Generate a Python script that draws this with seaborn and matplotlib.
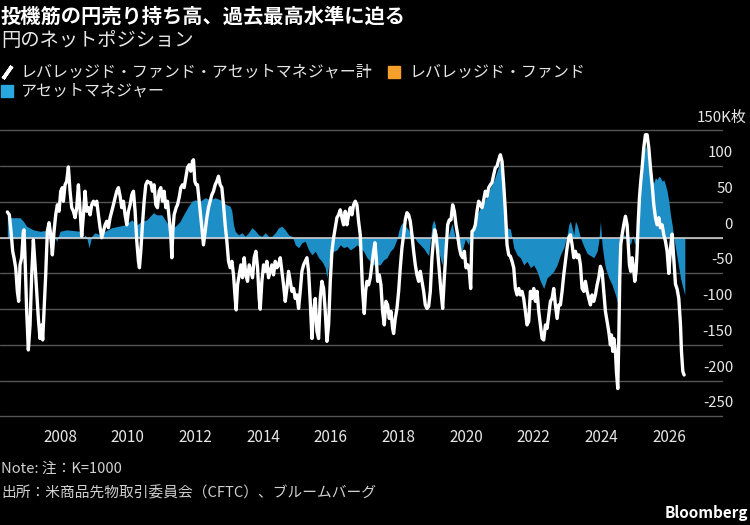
import numpy as np
import pandas as pd
import matplotlib
matplotlib.use("Agg")
import matplotlib.pyplot as plt
import seaborn as sns
from matplotlib import transforms
from matplotlib.lines import Line2D

# ---------------- data (thousand contracts, decimal years) ----------------
total_t = [2006.442, 2006.501, 2006.550, 2006.600, 2006.639, 2006.689, 2006.738, 2006.777, 2006.817, 2006.866,
           2006.915, 2006.935, 2006.965, 2007.014, 2007.063, 2007.113, 2007.162, 2007.211, 2007.261, 2007.310,
           2007.359, 2007.408, 2007.458, 2007.487, 2007.527, 2007.576, 2007.625, 2007.675, 2007.724, 2007.773,
           2007.823, 2007.872, 2007.921, 2007.971, 2008.020, 2008.069, 2008.099, 2008.148, 2008.197, 2008.247,
           2008.296, 2008.345, 2008.395, 2008.444, 2008.493, 2008.543, 2008.592, 2008.641, 2008.691, 2008.740,
           2008.789, 2008.839, 2008.888, 2008.937, 2008.987, 2009.036, 2009.085, 2009.134, 2009.184, 2009.233,
           2009.282, 2009.332, 2009.381, 2009.430, 2009.480, 2009.529, 2009.578, 2009.628, 2009.677, 2009.726,
           2009.776, 2009.825, 2009.874, 2009.923, 2009.973, 2010.022, 2010.071, 2010.121, 2010.170, 2010.219,
           2010.269, 2010.318, 2010.347, 2010.387, 2010.436, 2010.486, 2010.535, 2010.584, 2010.634, 2010.683,
           2010.732, 2010.781, 2010.831, 2010.880, 2010.929, 2010.979, 2011.028, 2011.077, 2011.127, 2011.176,
           2011.225, 2011.274, 2011.305, 2011.334, 2011.373, 2011.433, 2011.472, 2011.521, 2011.571, 2011.620,
           2011.669, 2011.718, 2011.768, 2011.817, 2011.866, 2011.916, 2011.945, 2011.985, 2012.024, 2012.064,
           2012.103, 2012.143, 2012.192, 2012.241, 2012.291, 2012.340, 2012.389, 2012.438, 2012.488, 2012.537,
           2012.586, 2012.636, 2012.685, 2012.734, 2012.784, 2012.833, 2012.882, 2012.932, 2012.981, 2013.030,
           2013.080, 2013.129, 2013.178, 2013.208, 2013.247, 2013.296, 2013.346, 2013.395, 2013.444, 2013.494,
           2013.543, 2013.592, 2013.642, 2013.691, 2013.740, 2013.790, 2013.839, 2013.888, 2013.918, 2013.967,
           2014.017, 2014.066, 2014.115, 2014.164, 2014.214, 2014.263, 2014.312, 2014.362, 2014.411, 2014.460,
           2014.510, 2014.559, 2014.608, 2014.658, 2014.707, 2014.756, 2014.806, 2014.855, 2014.904, 2014.953,
           2015.003, 2015.052, 2015.101, 2015.151, 2015.200, 2015.249, 2015.299, 2015.348, 2015.397, 2015.447,
           2015.496, 2015.545, 2015.594, 2015.644, 2015.693, 2015.742, 2015.792, 2015.841, 2015.890, 2015.940,
           2015.989, 2016.038, 2016.088, 2016.137, 2016.186, 2016.235, 2016.285, 2016.333, 2016.383, 2016.432,
           2016.481, 2016.531, 2016.580, 2016.629, 2016.678, 2016.728, 2016.777, 2016.826, 2016.876, 2016.905,
           2016.945, 2016.994, 2017.034, 2017.073, 2017.122, 2017.172, 2017.221, 2017.270, 2017.310, 2017.349,
           2017.389, 2017.438, 2017.487, 2017.536, 2017.586, 2017.635, 2017.684, 2017.734, 2017.783, 2017.832,
           2017.862, 2017.911, 2017.961, 2018.010, 2018.059, 2018.109, 2018.158, 2018.207, 2018.256, 2018.306,
           2018.355, 2018.404, 2018.454, 2018.503, 2018.552, 2018.602, 2018.651, 2018.700, 2018.750, 2018.799,
           2018.848, 2018.898, 2018.947, 2018.996, 2019.046, 2019.075, 2019.115, 2019.164, 2019.213, 2019.262,
           2019.312, 2019.361, 2019.410, 2019.460, 2019.509, 2019.558, 2019.608, 2019.657, 2019.706, 2019.756,
           2019.805, 2019.854, 2019.904, 2019.953, 2020.002, 2020.051, 2020.101, 2020.140, 2020.180, 2020.229,
           2020.278, 2020.328, 2020.377, 2020.426, 2020.476, 2020.525, 2020.574, 2020.623, 2020.673, 2020.722,
           2020.771, 2020.821, 2020.870, 2020.919, 2020.969, 2021.018, 2021.067, 2021.117, 2021.166, 2021.215,
           2021.265, 2021.314, 2021.363, 2021.413, 2021.462, 2021.511, 2021.561, 2021.610, 2021.659, 2021.708,
           2021.758, 2021.807, 2021.856, 2021.906, 2021.955, 2022.004, 2022.054, 2022.103, 2022.152, 2022.202,
           2022.251, 2022.300, 2022.350, 2022.399, 2022.448, 2022.498, 2022.547, 2022.596, 2022.645, 2022.695,
           2022.744, 2022.793, 2022.843, 2022.892, 2022.941, 2022.991, 2023.040, 2023.089, 2023.139, 2023.188,
           2023.237, 2023.287, 2023.336, 2023.385, 2023.434, 2023.484, 2023.533, 2023.582, 2023.632, 2023.681,
           2023.730, 2023.780, 2023.829, 2023.878, 2023.927, 2023.976, 2024.025, 2024.075, 2024.124, 2024.173,
           2024.222, 2024.272, 2024.301, 2024.341, 2024.370, 2024.420, 2024.449, 2024.489, 2024.518, 2024.548,
           2024.577, 2024.617, 2024.666, 2024.716, 2024.765, 2024.794, 2024.834, 2024.873, 2024.913, 2024.952,
           2024.992, 2025.031, 2025.061, 2025.090, 2025.130, 2025.169, 2025.209, 2025.258, 2025.307, 2025.357,
           2025.406, 2025.455, 2025.505, 2025.554, 2025.603, 2025.652, 2025.702, 2025.751, 2025.800, 2025.850,
           2025.899, 2025.948, 2025.998, 2026.047, 2026.096, 2026.146, 2026.195, 2026.244, 2026.293, 2026.343,
           2026.372, 2026.412, 2026.451]
total_v = [36, 32, 9, -19, -28, -42, -75, -89, -38, -28,
           9, 11, -28, -103, -157, -122, -52, -3, -38, -75,
           -113, -141, -122, -143, -103, -52, 9, 21, 4, -24,
           9, 32, 46, 37, 65, 70, 51, 74, 79, 99,
           65, 42, 37, 28, 42, 74, 37, 2, 32, 65,
           37, 42, 32, 46, 51, 46, 51, 32, 14, 0,
           9, 18, 23, 14, 28, 37, 46, 56, 65, 70,
           58, 42, 51, 32, 18, 37, 46, 60, 65, 37,
           -5, -33, -42, -19, 18, 51, 74, 79, 77, 77,
           65, 74, 46, 42, 65, 70, 51, 65, 42, 51,
           28, 4, -28, 9, 32, 42, 46, 56, 70, 74,
           70, 84, 98, 102, 93, 107, 109, 79, 74, 74,
           56, 37, 14, -10, 9, 28, 42, 51, 60, 65,
           74, 79, 86, 74, 70, 46, 18, -5, -33, -42,
           -33, -52, -85, -101, -66, -52, -38, -56, -28, -52,
           -61, -38, -47, -56, -28, -19, -42, -85, -100, -61,
           -38, -47, -33, -56, -47, -38, -52, -33, -42, -38,
           -28, -47, -66, -89, -71, -47, -61, -75, -71, -85,
           -80, -99, -75, -47, -38, -33, -28, -47, -89, -141,
           -103, -85, -131, -141, -85, -61, -71, -103, -145, -122,
           -61, -19, 0, 14, 28, 32, 39, 28, 18, 37,
           18, 32, 42, 32, 46, 51, 46, 23, 4, -28,
           -75, -106, -75, -61, -66, -56, -38, -19, -7, -28,
           -61, -52, -66, -103, -122, -89, -94, -113, -103, -127,
           -134, -113, -99, -75, -42, -14, 4, 25, 35, 32,
           23, 4, -19, -38, -52, -61, -47, -61, -75, -94,
           -99, -96, -75, -28, 0, 11, 4, -19, -47, -75,
           -99, -56, -19, 18, 25, 25, 46, 37, 18, 4,
           -14, -24, -28, -19, -42, -38, -47, -71, 9, 11,
           18, 37, 51, 46, 42, 53, 65, 58, 70, 74,
           77, 88, 98, 100, 109, 116, 107, 74, 37, -10,
           -24, -26, -33, -42, -71, -80, -71, -80, -75, -85,
           -103, -122, -117, -75, -85, -71, -89, -75, -103, -122,
           -141, -143, -122, -127, -108, -89, -85, -71, -94, -113,
           -94, -94, -75, -52, -33, -14, 0, 4, -10, -28,
           -19, -28, -24, -38, -71, -75, -61, -75, -85, -94,
           -80, -89, -80, -66, -56, -40, -47, -75, -103, -117,
           -131, -150, -136, -159, -141, -159, -187, -211, -145, -56,
           -10, 4, 18, 30, 18, -5, -38, -47, -28, -42,
           -61, -47, -19, 18, 56, 79, 98, 126, 144, 144,
           126, 98, 74, 46, 28, 18, 28, 14, 18, 4,
           -5, -19, -50, -15, 5, -30, -65, -72, -85, -122,
           -159, -187, -192]

am_t = [2006.442, 2006.570, 2006.669, 2006.817, 2006.915, 2007.014, 2007.211, 2007.408, 2007.556, 2007.655,
        2007.803, 2007.902, 2008.000, 2008.197, 2008.395, 2008.592, 2008.691, 2008.740, 2008.789, 2008.858,
        2008.937, 2009.036, 2009.184, 2009.332, 2009.529, 2009.726, 2009.923, 2010.121, 2010.269, 2010.416,
        2010.564, 2010.663, 2010.762, 2010.860, 2011.008, 2011.107, 2011.205, 2011.304, 2011.354, 2011.452,
        2011.551, 2011.649, 2011.797, 2011.896, 2011.995, 2012.143, 2012.291, 2012.438, 2012.586, 2012.734,
        2012.833, 2012.932, 2013.030, 2013.080, 2013.129, 2013.178, 2013.277, 2013.376, 2013.474, 2013.573,
        2013.671, 2013.770, 2013.869, 2013.967, 2014.066, 2014.164, 2014.263, 2014.362, 2014.460, 2014.559,
        2014.658, 2014.756, 2014.855, 2014.904, 2014.953, 2015.052, 2015.151, 2015.249, 2015.348, 2015.447,
        2015.545, 2015.644, 2015.742, 2015.841, 2015.890, 2015.940, 2015.989, 2016.088, 2016.186, 2016.285,
        2016.383, 2016.481, 2016.580, 2016.678, 2016.777, 2016.876, 2016.974, 2017.073, 2017.172, 2017.270,
        2017.369, 2017.467, 2017.566, 2017.665, 2017.763, 2017.862, 2017.960, 2018.010, 2018.059, 2018.109,
        2018.158, 2018.256, 2018.355, 2018.454, 2018.552, 2018.651, 2018.750, 2018.848, 2018.898, 2018.947,
        2018.996, 2019.046, 2019.095, 2019.193, 2019.292, 2019.391, 2019.489, 2019.588, 2019.686, 2019.785,
        2019.884, 2019.982, 2020.081, 2020.130, 2020.229, 2020.328, 2020.426, 2020.525, 2020.623, 2020.722,
        2020.821, 2020.919, 2021.018, 2021.087, 2021.166, 2021.215, 2021.314, 2021.363, 2021.413, 2021.511,
        2021.610, 2021.708, 2021.807, 2021.906, 2022.004, 2022.103, 2022.202, 2022.300, 2022.399, 2022.498,
        2022.596, 2022.695, 2022.793, 2022.892, 2022.991, 2023.040, 2023.089, 2023.139, 2023.188, 2023.237,
        2023.287, 2023.385, 2023.484, 2023.582, 2023.681, 2023.780, 2023.878, 2023.927, 2023.976, 2024.025,
        2024.075, 2024.124, 2024.222, 2024.321, 2024.420, 2024.499, 2024.538, 2024.577, 2024.666, 2024.765,
        2024.864, 2024.933, 2024.992, 2025.061, 2025.110, 2025.159, 2025.209, 2025.258, 2025.307, 2025.357,
        2025.406, 2025.455, 2025.505, 2025.554, 2025.603, 2025.652, 2025.702, 2025.751, 2025.800, 2025.850,
        2025.899, 2025.948, 2025.998, 2026.047, 2026.096, 2026.146, 2026.195, 2026.244, 2026.293, 2026.343,
        2026.392, 2026.441, 2026.471]
am_v = [30, 28, 28, 28, 23, 16, 11, 9, 10, 4,
        4, -5, 9, 11, 10, 9, 0, 4, 0, -14,
        2, 7, 4, 9, 14, 16, 18, 25, 18, 23,
        25, 30, 35, 32, 32, 25, 18, 9, 14, 18,
        23, 32, 44, 51, 53, 51, 56, 53, 56, 53,
        49, 46, 44, 37, 18, 9, 4, 7, 2, 7,
        14, 10, 4, 2, 7, 2, 2, 7, 14, 16,
        11, 4, 2, -3, -10, -14, -7, -5, -17, -24,
        -19, -28, -33, -42, -56, -38, -26, -19, -17, -10,
        -14, -12, -17, -14, -10, -14, -19, -28, -33, -38,
        -38, -38, -31, -28, -19, -14, -2, 9, 16, 21,
        18, 14, 7, 2, -5, -10, -15, -22, -25, -5,
        18, 25, 18, -19, -38, -10, 4, 20, 0, -14,
        -19, -2, -10, 4, 18, 32, 42, 49, 58, 70,
        79, 93, 107, 98, 51, 14, 12, 0, -14, -24,
        -28, -38, -33, -42, -38, -47, -61, -71, -56, -52,
        -47, -38, -24, -14, 4, 18, 23, 14, 4, 23,
        18, 0, -12, -22, -25, -28, -19, -5, 23, -10,
        -28, -42, -56, -66, -80, -94, -28, 0, 4, 0,
        -10, 4, -10, 4, 51, 79, 98, 116, 130, 121,
        98, 88, 79, 77, 84, 81, 86, 84, 79, 81,
        74, 65, 51, 32, 18, 0, -14, -28, -42, -56,
        -66, -75, -80]

y_ticks = [-250, -200, -150, -100, -50, 0, 50, 100, 150]
y_tick_labels = ["-250", "-200", "-150", "-100", "-50", "0", "50", "100", "150K枚"]
x_major = [2008, 2010, 2012, 2014, 2016, 2018, 2020, 2022, 2024, 2026]
x_minor = [2007, 2009, 2011, 2013, 2015, 2017, 2019, 2021, 2023, 2025, 2027]

title = "投機筋の円売り持ち高、過去最高水準に迫る"
subtitle = "円のネットポジション"
leg_total = "レバレッジド・ファンド・アセットマネジャー計"
leg_lev = "レバレッジド・ファンド"
leg_am = "アセットマネジャー"
note = "Note: 注：K=1000"
source = "出所：米商品先物取引委員会（CFTC）、ブルームバーグ"

# ---------------- style ----------------
sns.set_style("dark")
plt.rcParams["font.family"] = ["Noto Sans CJK JP", "DejaVu Sans"]
plt.rcParams["axes.unicode_minus"] = False

BG = "black"
BLUE = "#1e8ec6"
BLUE_LEG = "#29a8e0"
ORANGE = "#f5a02a"
GRID = "#555555"
TXT = "#e6e6e6"

W, H = 750, 525
fig = plt.figure(figsize=(7.5, 5.25), dpi=100, facecolor=BG)

def fx(px):
    return px / W

def fy(py):
    return 1 - py / H

ymin, ymax = -252, 152
top_px = 237.7 - ymax * 35.75 / 50
bot_px = 237.7 - ymin * 35.75 / 50
ax = fig.add_axes([0, fy(bot_px), fx(723), (bot_px - top_px) / H])
ax.set_facecolor(BG)

# asset manager area
ax.fill_between(am_t, 0, am_v, color=BLUE, linewidth=0, zorder=2)

# zero line
ax.axhline(0, color="#d8d8d8", lw=1.1, zorder=3)

# total line
df_total = pd.DataFrame({"t": total_t, "v": total_v})
sns.lineplot(data=df_total, x="t", y="v", ax=ax, color="white", lw=2.4,
             estimator=None, sort=False, zorder=4)
for l in ax.lines:
    l.set_solid_joinstyle("round")
    l.set_solid_capstyle("round")

ax.set_xlim(2006.225, 2027.6)
ax.set_ylim(ymin, ymax)
ax.set_xlabel("")
ax.set_ylabel("")

for s in ax.spines.values():
    s.set_visible(False)

ax.set_yticks(y_ticks)
ax.set_yticklabels([])
ax.tick_params(axis="y", length=0)
ax.yaxis.grid(True, color=GRID, lw=1, zorder=1)
ax.xaxis.grid(False)

ax.set_xticks(x_major)
ax.set_xticklabels([str(v) for v in x_major], color=TXT, fontsize=11)
ax.set_xticks(x_minor, minor=True)
ax.tick_params(axis="x", which="major", length=5, width=1, color="#8a8a8a", pad=3)
ax.tick_params(axis="x", which="minor", length=2.6, width=1, color="#8a8a8a")

# y labels above gridlines, right side
trans = transforms.blended_transform_factory(ax.transAxes, ax.transData)
trans = transforms.offset_copy(trans, fig=fig, x=0, y=13, units="dots")
for v, lab in zip(y_ticks, y_tick_labels):
    xr = 746 if lab.endswith("K枚") else 733
    ax.text(xr / 723, v, lab, transform=trans, ha="right", va="center",
            color=TXT, fontsize=10.8, clip_on=False)

# titles
fig.text(fx(1), fy(16), title, color="white", fontsize=14.6, fontweight="bold",
         ha="left", va="center")
fig.text(fx(1), fy(40), subtitle, color=TXT, fontsize=13.9, ha="left", va="center")

# legend (manual)
fig.add_artist(Line2D([fx(7)], [fy(72)], transform=fig.transFigure, marker=(2, 2, -35),
                      markersize=11, markeredgewidth=2.6, markeredgecolor="white", linestyle="none"))
fig.text(fx(20), fy(72), leg_total, color=TXT, fontsize=11.5, ha="left", va="center")
fig.add_artist(Line2D([fx(394)], [fy(72)], transform=fig.transFigure, marker="s",
                      markersize=9, color=ORANGE, linestyle="none"))
fig.text(fx(409), fy(72), leg_lev, color=TXT, fontsize=11.5, ha="left", va="center")
fig.add_artist(Line2D([fx(7)], [fy(91)], transform=fig.transFigure, marker="s",
                      markersize=9, color=BLUE_LEG, linestyle="none"))
fig.text(fx(20), fy(91), leg_am, color=TXT, fontsize=11.5, ha="left", va="center")

# footer
fig.text(fx(1), fy(469), note, color="#d0d0d0", fontsize=10.6, ha="left", va="center")
fig.text(fx(1), fy(493), source, color="#d0d0d0", fontsize=10.6, ha="left", va="center")
fig.text(fx(748), fy(513), "Bloomberg", color="white", fontsize=11, fontweight="bold",
         ha="right", va="center")

fig.savefig("out.png", dpi=100, facecolor=BG)
